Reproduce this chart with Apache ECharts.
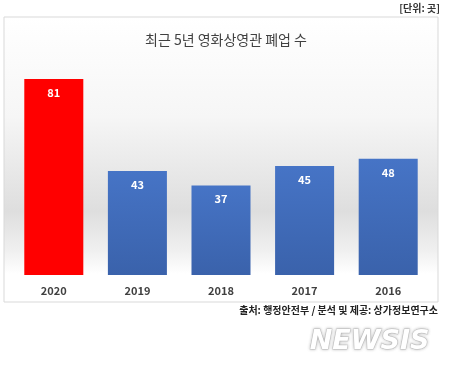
<!DOCTYPE html>
<html><head><meta charset="utf-8">
<script src="https://cdn.jsdelivr.net/npm/echarts@6/dist/echarts.min.js"></script>
<style>html,body{margin:0;padding:0;background:#fff}#c{width:452px;height:366px}</style>
</head><body><div id="c"></div>
<script>
const categories = ['2020', '2019', '2018', '2017', '2016'];
const values = [81, 43, 37, 45, 48];
const titleText = '최근 5년 영화상영관 폐업 수';
const unitText = '[단위: 곳]';
const sourceText = '출처: 행정안전부 / 분석 및 제공: 상가정보연구소';

const chart = echarts.init(document.getElementById('c'), null, {renderer: 'canvas'});
const font = '"Noto Sans CJK KR", "Noto Sans", sans-serif';
const blue = new echarts.graphic.LinearGradient(0, 0, 0, 1, [
  {offset: 0, color: '#4674c6'}, {offset: 1, color: '#3a62ab'}]);
const red = '#ff0000';

chart.setOption({
  animation: false,
  graphic: [
    {type: 'rect', z: -10, shape: {x: 4, y: 17, width: 434, height: 285},
     style: {fill: new echarts.graphic.LinearGradient(0, 0, 0, 1, [
       {offset: 0, color: '#ffffff'},
       {offset: 0.35, color: '#f6f6f6'},
       {offset: 0.68, color: '#dedede'},
       {offset: 0.82, color: '#f0f0f0'},
       {offset: 0.9, color: '#ffffff'},
       {offset: 1, color: '#ffffff'}]), stroke: '#d9d9d9', lineWidth: 1}},
    {type: 'text', left: 'center', top: 33, style: {text: titleText, font: '14px ' + font, fill: '#404040'}},
    {type: 'text', right: 12, top: 3, style: {text: unitText, font: 'bold 10px ' + font, fill: '#333'}},
    {type: 'text', right: 14, top: 305, style: {text: sourceText, font: 'bold 10px ' + font, fill: '#222'}},
    {type: 'text', right: 22, top: 328, style: {text: 'NEWSIS', font: 'italic bold 27px "DejaVu Sans", sans-serif', fill: '#ffffff', stroke: '#cfcfcf', lineWidth: 1, textShadowColor: 'rgba(0,0,0,0.25)', textShadowBlur: 3}}
  ],
  grid: {left: 12, right: 22, top: 33, bottom: 91, containLabel: false},
  xAxis: {
    type: 'category', data: categories,
    axisLine: {show: false}, axisTick: {show: false},
    axisLabel: {color: '#404040', fontFamily: font, fontWeight: 'bold', fontSize: 11, margin: 10}
  },
  yAxis: {type: 'value', min: 0, max: 100, show: false, splitLine: {show: false}},
  series: [{
    type: 'bar', data: values.map((v, i) => ({value: v, itemStyle: {color: i === 0 ? red : blue}})),
    barWidth: '70.6%',
    label: {show: true, position: 'insideTop', distance: 8, color: '#fff', fontWeight: 'bold', fontSize: 11, fontFamily: font}
  }]
});
</script></body></html>
